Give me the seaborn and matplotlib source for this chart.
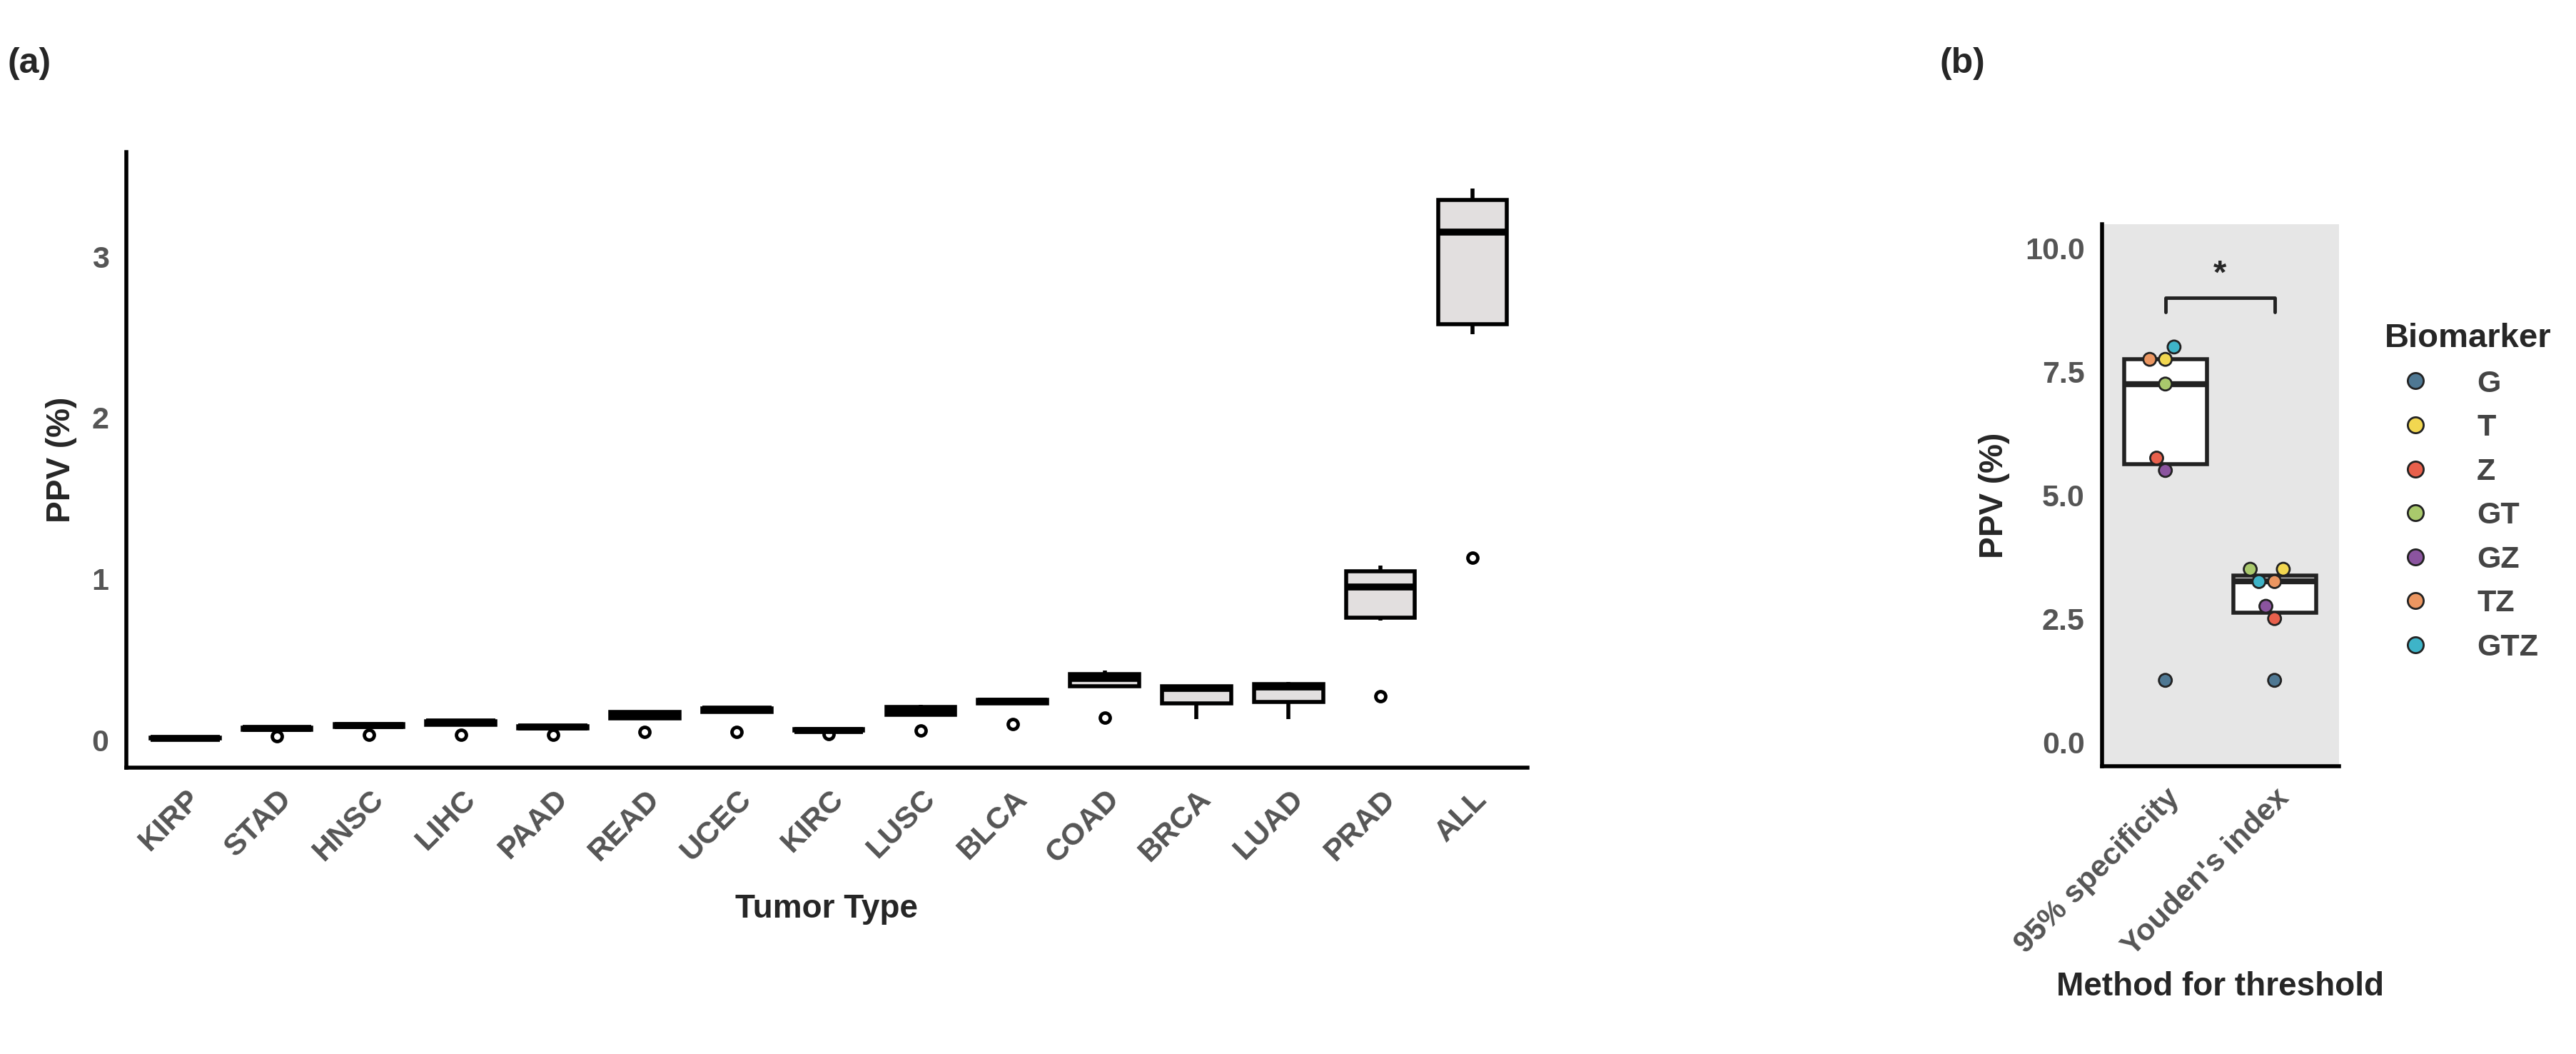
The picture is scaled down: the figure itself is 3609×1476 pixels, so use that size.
import matplotlib
matplotlib.use("Agg")
import matplotlib.pyplot as plt
import seaborn as sns
import pandas as pd
from matplotlib.lines import Line2D

sns.set_style("white")
plt.rcParams['font.family'] = ['Liberation Sans', 'DejaVu Sans']

tumors = ["KIRP","STAD","HNSC","LIHC","PAAD","READ","UCEC","KIRC","LUSC","BLCA","COAD","BRCA","LUAD","PRAD","ALL"]
biomarkers = ["G","T","Z","GT","GZ","TZ","GTZ"]
# PPV (%) per tumor type, one value per biomarker (G,T,Z,GT,GZ,TZ,GTZ)
ppv_tumor = {
    "KIRP": [0.008,0.01,0.009,0.012,0.01,0.012,0.012],
    "STAD": [0.025,0.07,0.06,0.075,0.065,0.08,0.078],
    "HNSC": [0.03,0.09,0.08,0.095,0.085,0.10,0.098],
    "LIHC": [0.03,0.11,0.09,0.115,0.10,0.12,0.118],
    "PAAD": [0.03,0.08,0.07,0.085,0.075,0.09,0.088],
    "READ": [0.05,0.16,0.13,0.17,0.14,0.18,0.175],
    "UCEC": [0.05,0.19,0.17,0.19,0.18,0.20,0.20],
    "KIRC": [0.035,0.06,0.055,0.065,0.058,0.07,0.068],
    "LUSC": [0.06,0.18,0.15,0.19,0.16,0.22,0.22],
    "BLCA": [0.10,0.24,0.22,0.245,0.23,0.25,0.25],
    "COAD": [0.14,0.38,0.33,0.40,0.34,0.42,0.43],
    "BRCA": [0.13,0.32,0.22,0.33,0.23,0.34,0.34],
    "LUAD": [0.13,0.33,0.23,0.34,0.24,0.35,0.36],
    "PRAD": [0.27,0.95,0.74,1.03,0.78,1.06,1.08],
    "ALL":  [1.13,3.15,2.52,3.30,2.64,3.40,3.42],
}
methods = ["95% specificity","Youden's index"]
ppv_95spec = [1.25,7.75,5.75,7.25,5.5,7.75,8.0]
ppv_youden = [1.25,3.5,2.5,3.5,2.75,3.25,3.25]
bm_colors = ["#4f7893","#f2d750","#e8604c","#a9c96c","#8b549f","#eb9661","#3eb4c8"]

dfa = pd.DataFrame([(t, b, v) for t in tumors for b, v in zip(biomarkers, ppv_tumor[t])],
                   columns=["tumor","bm","ppv"])
dfb = pd.DataFrame([(m, b, v) for m, vals in zip(methods,[ppv_95spec, ppv_youden]) for b, v in zip(biomarkers, vals)],
                   columns=["method","bm","ppv"])

fig = plt.figure(figsize=(36.09,14.76), dpi=100)
axa = fig.add_axes([0.049,0.272,0.544,0.584])
axb = fig.add_axes([0.816,0.273,0.092,0.514])

lw = 4
sns.boxplot(data=dfa, x="tumor", y="ppv", order=tumors, ax=axa, color="#e2dfdf",
            width=0.75, linewidth=lw, saturation=1,
            boxprops=dict(edgecolor="black", facecolor="#e2dfdf"),
            medianprops=dict(color="black", linewidth=7),
            whiskerprops=dict(color="black"), capprops=dict(linewidth=0),
            flierprops=dict(marker="o", markersize=10, markerfacecolor="white",
                            markeredgecolor="black", markeredgewidth=3.5))
axa.set_xlim(-0.64, 14.6)
axa.set_ylim(-0.17, 3.65)
axa.set_yticks([0,1,2,3])
axa.set_xlabel("Tumor Type", fontsize=33, fontweight="bold", labelpad=25)
axa.set_ylabel("PPV (%)", fontsize=33, fontweight="bold", labelpad=15)
for s in ["top","right"]:
    axa.spines[s].set_visible(False)
for s in ["left","bottom"]:
    axa.spines[s].set_linewidth(4); axa.spines[s].set_color("black")
axa.tick_params(axis="both", length=14, width=3, labelsize=31, labelcolor="#555555", color="#333333", direction="out")
plt.setp(axa.get_xticklabels(), rotation=45, ha="right", rotation_mode="anchor", fontweight="bold")
plt.setp(axa.get_yticklabels(), fontweight="bold")

axb.set_facecolor("#e6e6e6")
sns.boxplot(data=dfb, x="method", y="ppv", order=methods, ax=axb, width=0.76,
            linewidth=4, saturation=1, showfliers=False, whis=0,
            boxprops=dict(edgecolor="#222222", facecolor="white"),
            medianprops=dict(color="#222222", linewidth=6),
            whiskerprops=dict(linewidth=0), capprops=dict(linewidth=0))
sns.swarmplot(data=dfb, x="method", y="ppv", order=methods, hue="bm", hue_order=biomarkers,
              palette=bm_colors, ax=axb, size=13, edgecolor="#222222", linewidth=2, legend=False)
axb.set_xlim(-0.58, 1.59)
axb.set_ylim(-0.49, 10.48)
axb.set_yticks([0,2.5,5,7.5,10])
axb.set_yticklabels(["0.0","2.5","5.0","7.5","10.0"])
axb.plot([0,0,1,1],[8.7,9.0,9.0,8.7], color="#222222", lw=3.5)
axb.text(0.5, 9.15, "*", ha="center", va="bottom", fontsize=34, fontweight="bold")
axb.set_xlabel("Method for threshold", fontsize=33, fontweight="bold", labelpad=10)
axb.set_ylabel("PPV (%)", fontsize=33, fontweight="bold", labelpad=15)
for s in ["top","right"]:
    axb.spines[s].set_visible(False)
for s in ["left","bottom"]:
    axb.spines[s].set_linewidth(4); axb.spines[s].set_color("black")
axb.tick_params(axis="both", length=14, width=3, labelsize=31, labelcolor="#555555", color="#333333", direction="out")
plt.setp(axb.get_xticklabels(), rotation=45, ha="right", rotation_mode="anchor", fontweight="bold")
plt.setp(axb.get_yticklabels(), fontweight="bold")

handles = [Line2D([0],[0], marker="o", linestyle="", markersize=16, markerfacecolor=c,
                  markeredgecolor="#222222", markeredgewidth=2) for c in bm_colors]
leg = fig.legend(handles, biomarkers, title="Biomarker", loc="upper left",
                 bbox_to_anchor=(0.915, 0.72), frameon=False, fontsize=31,
                 title_fontsize=34, labelspacing=0.5, handletextpad=1.0, alignment="left")
leg.get_title().set_fontweight("bold")
for t in leg.get_texts():
    t.set_color("#444444"); t.set_fontweight("bold")

fig.text(0.003, 0.955, "(a)", fontsize=36, fontweight="bold", va="top")
fig.text(0.753, 0.955, "(b)", fontsize=36, fontweight="bold", va="top")

fig.savefig("out.png", dpi=100, facecolor="white")
